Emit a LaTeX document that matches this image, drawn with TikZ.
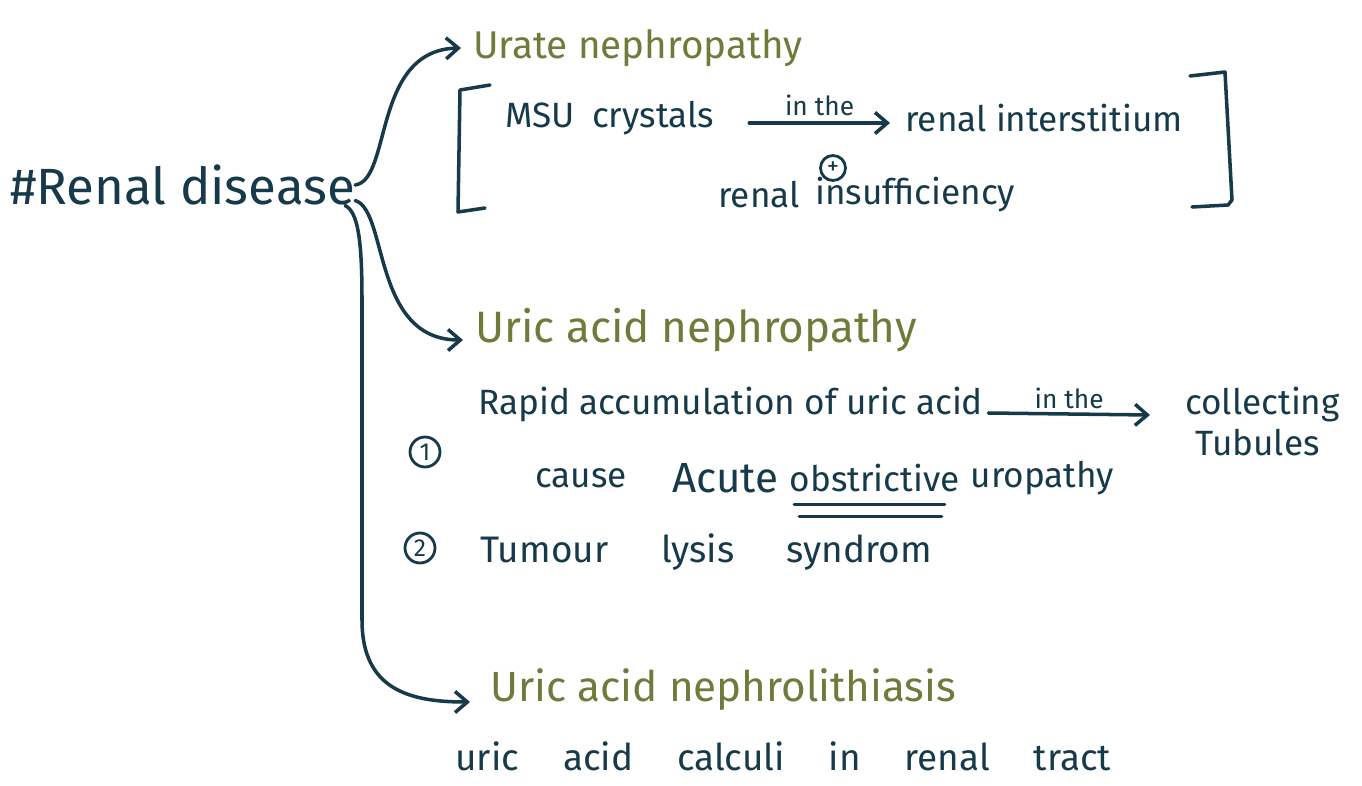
\documentclass[tikz,border=0pt]{standalone}
\usepackage{fontspec}
\setmainfont{Fira Sans}
\usetikzlibrary{arrows.meta, positioning, calc}
\definecolor{ink}{HTML}{173A4A}
\definecolor{olive}{HTML}{6E7B3A}
\newcommand\wordgap[1]{\spaceskip=#1\relax}

\begin{document}
\begin{tikzpicture}[
    x=0.2mm, y=-0.2mm,
    txt/.style={inner sep=0pt, text=ink, font=\fontsize{20}{22}\selectfont, anchor=west},
    wide/.style={txt, font={\fontsize{21}{23}\selectfont\wordgap{25pt}}},
    head/.style={txt, text=olive, font=\fontsize{22}{24}\selectfont},
    small/.style={inner sep=1pt, text=ink, font=\fontsize{15}{16}\selectfont},
    num/.style={circle, draw=ink, line width=1.6pt, inner sep=0pt, minimum size=6mm, font=\fontsize{14}{14}\selectfont, text=ink},
    arrow/.style={-{Straight Barb[length=7pt, width=12pt]}, line width=2pt, ink, line cap=round},
    pen/.style={line width=2pt, ink, line cap=round, line join=round},
]
    \fill[white] (0,0) rectangle (1362,786);
    \useasboundingbox (0,0) rectangle (1362,786);

    \node[txt, font=\fontsize{29}{31}\selectfont] (disease) at (10,185) {\#Renal disease};

    % urate nephropathy
    \node[head] (urate) at (473,48) {Urate nephropathy};
    \node[txt, font={\fontsize{20}{22}\selectfont\wordgap{10pt}}] (msu) at (505,118) {MSU crystals};
    \node[txt] (interst) at (905,118) {renal interstitium};
    \node[txt] (renal) at (718,195) {renal};
    \node[txt] (insuff) at (815,195) {insufficiency};
    \node[num, minimum size=5mm] (plus) at (833,168) {+};
    \draw[arrow] ($(msu.east)+(35,5)$) -- node[small, above=2pt] {in the} ($(interst.west)+(-15,5)$);
    \draw[pen] (490,85) -- (460,90) -- (458,212) -- (485,208);
    \draw[pen] (1190,76) -- (1225,72) -- (1232,200) -- (1228,205) -- (1192,207);

    % uric acid nephropathy
    \node[head, font=\fontsize{25}{27}\selectfont] (uan) at (475,330) {Uric acid nephropathy};
    \node[txt] (rapid) at (478,405) {Rapid accumulation of uric acid};
    \node[txt] (coll) at (1185,405) {collecting};
    \node[txt] (tub) at (1195,443) {Tubules};
    \draw[arrow] ($(rapid.east)+(5,8)$) -- node[small, above=1pt] {in the} ($(coll.west)+(-35,10)$);
    \node[num] (one) at (425,452) {1};
    \node[txt] (cause) at (535,478) {cause};
    \node[txt, font=\fontsize{24}{26}\selectfont] (acute) at (672,478) {Acute};
    \node[txt, right=6pt of acute] (obs) {obstrictive};
    \node[txt, right=6pt of obs] (uro) {uropathy};
    \draw[pen] ($(obs.south west)+(5,12)$) -- ($(obs.south east)+(-15,12)$);
    \draw[pen] ($(obs.south west)+(10,24)$) -- ($(obs.south east)+(-18,24)$);
    \node[num] (two) at (420,548) {2};
    \node[txt, font={\fontsize{21}{23}\selectfont\wordgap{30pt}}] (tls) at (480,552) {Tumour lysis syndrom};

    % uric acid nephrolithiasis
    \node[head, font=\fontsize{24}{26}\selectfont] (uanl) at (490,690) {Uric acid nephrolithiasis};
    \node[wide] (calc) at (455,756) {uric acid calculi in renal tract};

    \draw[arrow] (disease.east) .. controls (392,180) and (372,50) .. ($(urate.west)+(-12,0)$);
    \draw[arrow] ($(disease.south east)+(0,-5)$) .. controls (388,210) and (372,340) .. ($(uan.west)+(-12,10)$);
    \draw[arrow] ($(disease.south east)+(-10,0)$) .. controls (358,212) and (362,240) .. (362,300)
        -- (362,620) .. controls (362,690) and (410,702) .. ($(uanl.west)+(-20,12)$);
\end{tikzpicture}
\end{document}
